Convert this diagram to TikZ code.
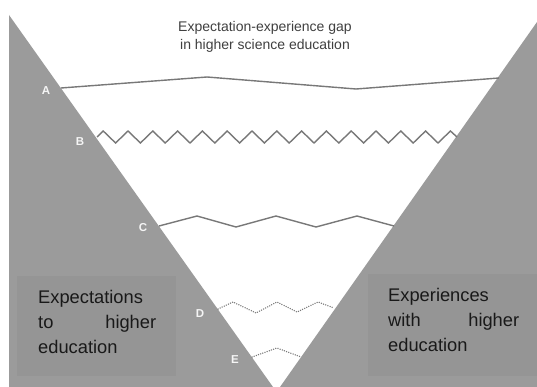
\documentclass[tikz,border=0pt]{standalone}
\usepackage{fontspec}
\setmainfont{Liberation Sans}
\usepackage{tikz}
\usetikzlibrary{positioning,calc}
\definecolor{conegray}{RGB}{155,155,155}
\definecolor{boxgray}{RGB}{149,149,149}
\definecolor{gapline}{RGB}{120,120,120}
\tikzset{
  gap/.style={draw=gapline, line width=1.4pt, line join=miter},
  dotgap/.style={draw=gapline, line width=1.5pt, line cap=round, dash pattern=on 0pt off 2.3pt},
  letter/.style={text=white!92!gray, font=\fontsize{11.5}{13}\selectfont\bfseries, inner sep=0pt},
  sidetext/.style={text=black!90, font=\fontsize{18.3}{25}\selectfont, align=left, inner sep=0pt, anchor=north west}
}

\begin{document}
\begin{tikzpicture}[x=1pt,y=-1pt]
      \useasboundingbox (0,0) rectangle (537,387);
      \fill[white] (0,0) rectangle (537,387);
      % the two sides of the cone
      \fill[conegray] (9,15) -- (273,387) -- (9,387) -- cycle;
      \fill[conegray] (537,22) -- (280,387) -- (537,387) -- cycle;
      \fill[boxgray] (17,276) rectangle (176,376);
      \fill[boxgray] (368,274) rectangle (537,376);

      \node[text=black!75, font=\fontsize{14}{17.5}\selectfont, align=center] at (265,37) (title) {Expectation-experience gap\\in higher science education};

      \coordinate (A-l) at (61,88);  \coordinate (A-r) at (499,78);
      \coordinate (B-l) at (97,137); \coordinate (B-r) at (457,137);
      \coordinate (C-l) at (159,226); \coordinate (C-r) at (394,226);
      \coordinate (D-l) at (218,309); \coordinate (D-r) at (334,308);
      \coordinate (E-l) at (252,357); \coordinate (E-r) at (301,357);

      \node[letter] at (46,91) (A) {A};
      \node[letter] at (80,142) (B) {B};
      \node[letter] at (143,228) (C) {C};
      \node[letter] at (200,314) (D) {D};
      \node[letter] at (235,360) (E) {E};

      \draw[gap] (A-l) -- (207,77) -- (356,89) -- (A-r);
      \draw[gap] (B-l) \foreach \i in {0,...,13} { -- ++(6.2,-6) -- ++(12.4,12) -- ++(6.2,-6) } -- ++(6.2,-6) -- (B-r);
      \draw[gap] (C-l) -- (197,216) -- (236,227) -- (276,216) -- (316,227) -- (357,216) -- (C-r);
      \draw[dotgap] (D-l) -- (233,302) -- (256,313) -- (277,302) -- (297,312) -- (318,302) -- (D-r);
      \draw[dotgap] (E-l) -- (277,348) -- (E-r);

      \node[sidetext, text width=118pt] at (38,290) (expect) {Expectations\\to\hfill higher\\education};
      \node[sidetext, text width=131pt] at (388,288) (exper) {Experiences\\with\hfill higher\\education};
\end{tikzpicture}
\end{document}
